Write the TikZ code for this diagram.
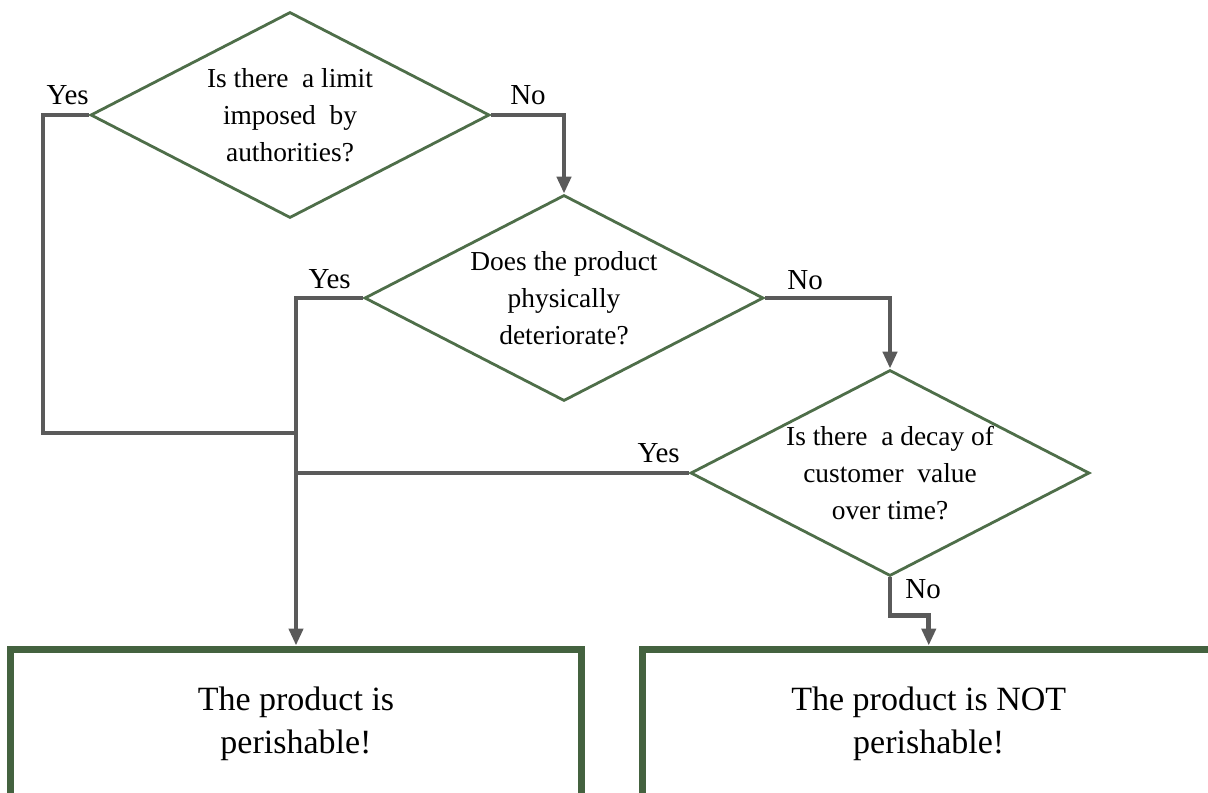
\documentclass[tikz,border=0pt]{standalone}
\usepackage{fontspec}
\setmainfont{Liberation Serif}
\usetikzlibrary{shapes.geometric,arrows.meta,positioning}
\definecolor{leafgreen}{HTML}{4E6E49}
\definecolor{boxgreen}{HTML}{44623F}
\definecolor{wiregray}{HTML}{5A5A5A}
\tikzset{
QUESTION/.style={draw=leafgreen, shape=diamond, aspect=2, inner sep=-10pt, line width=1.4pt,
  minimum width=199.5pt, minimum height=103pt, align=center, font=\fontsize{13.7}{18.5}\selectfont},
ANSWER/.style={draw=boxgreen, line width=3.5pt, minimum height=75pt, align=center,
  font=\fontsize{17}{21.5}\selectfont},
WIRE/.style={draw=wiregray, line width=2.4pt},
ARROW/.style={WIRE, -{Triangle[length=8.5pt, width=7pt]}},
TAG/.style={inner sep=0pt, font=\fontsize{14.5}{16}\selectfont},
}

\begin{document}
\begin{tikzpicture}[x=0.5pt, y=-0.5pt]
	\clip (0,0) rectangle (1208,792);
	% questions
	\node[QUESTION] (d1) at (290,115) {Is there\ \ a limit\\imposed\ \ by\\authorities?};
	\node[QUESTION] (d2) at (564,298) {Does the product\\physically\\deteriorate?};
	\node[QUESTION] (d3) at (890,473) {Is there\ \ a decay\ of\\customer\ \ value\\over time?};
	% answers
	\node[ANSWER, minimum width=285.5pt] (b1) at (296,724) {The product is\\perishable!};
	\node[ANSWER, minimum width=286.25pt] (b2) at (928.75,724) {The product is NOT\\perishable!};
	% yes / no tags
	\node[TAG, above left=5pt and 0pt of d1.west] (y1) {Yes};
	\node[TAG, above right=5pt and 9.5pt of d1.east] (n1) {No};
	\node[TAG, above left=4.5pt and 6pt of d2.west] (y2) {Yes};
	\node[TAG, above right=4pt and 11pt of d2.east] (n2) {No};
	\node[TAG, above left=5pt and 4.5pt of d3.west] (y3) {Yes};
	\node[TAG, below right=1pt and 7.5pt of d3.south] (n3) {No};
	% connectors
	\coordinate (c1) at (43,115);
	\coordinate (j1) at (296,433);
	\path[WIRE] (d1.west) -- (c1) |- (j1);
	\path[ARROW] (d2.west) -| (b1.north);
	\path[WIRE] (d3.west) -- (d3.west -| b1.north);
	\path[ARROW] (d1.east) -| (d2.north);
	\path[ARROW] (d2.east) -| (d3.north);
	\path[ARROW] (d3.south) -- ++(0,38) -| (b2.north);
\end{tikzpicture}
\end{document}
